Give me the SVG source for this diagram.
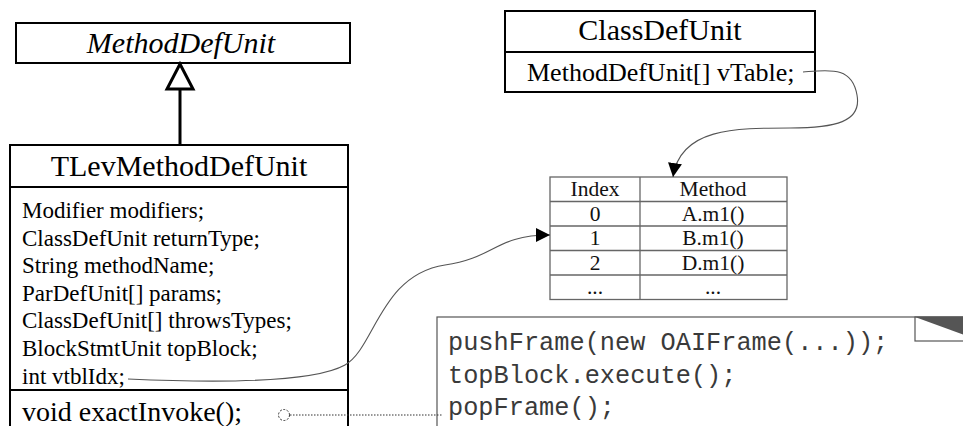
<svg xmlns="http://www.w3.org/2000/svg" width="963" height="426" viewBox="0 0 963 426">
  <style>
    .uml { fill: #fff; stroke: #000; stroke-width: 2; }
    .sep { stroke: #000; stroke-width: 2; }
    .serif { font-family: "Liberation Serif", "Times New Roman", serif; fill: #000; }
    .title { font-size: 30px; text-anchor: middle; }
    .attr { font-size: 23px; }
    .tbl { fill: none; stroke: #666; stroke-width: 1.3; }
    .cell { font-family: "Liberation Serif", "Times New Roman", serif; font-size: 21.5px; text-anchor: middle; fill: #111; }
    .code { font-family: "Liberation Mono", "Courier New", monospace; font-size: 25.3px; fill: #3a3a3a; }
    .link { fill: none; stroke: #555; stroke-width: 1.1; }
    .dots { fill: none; stroke: #333; stroke-width: 1.2; stroke-dasharray: 1.5 1.5; }
  </style>
  <defs>
    <marker id="arrow" markerUnits="userSpaceOnUse" markerWidth="15" markerHeight="14" refX="14" refY="7" orient="auto">
      <path d="M0,0 L14,7 L0,14 z" fill="#000"/>
    </marker>
  </defs>

  <rect width="963" height="426" fill="#fff"/>

  <!-- abstract base class -->
  <g id="methodDefUnit">
    <rect class="uml" x="16" y="23" width="334" height="40"/>
    <text class="serif title" x="181" y="53" font-style="italic">MethodDefUnit</text>
  </g>

  <!-- subclass with attributes and operation -->
  <g id="tLevMethodDefUnit">
    <rect class="uml" x="10" y="145" width="338" height="300"/>
    <line class="sep" x1="10" y1="187" x2="348" y2="187"/>
    <line class="sep" x1="10" y1="390" x2="348" y2="390" stroke-width="2.5"/>
    <text class="serif title" x="179" y="176">TLevMethodDefUnit</text>
    <text class="serif attr" x="22" y="218">Modifier modifiers;</text>
    <text class="serif attr" x="22" y="245.6">ClassDefUnit returnType;</text>
    <text class="serif attr" x="22" y="273.2">String methodName;</text>
    <text class="serif attr" x="22" y="300.8">ParDefUnit[] params;</text>
    <text class="serif attr" x="22" y="328.4">ClassDefUnit[] throwsTypes;</text>
    <text class="serif attr" x="22" y="356">BlockStmtUnit topBlock;</text>
    <text class="serif attr" x="22" y="383.6">int vtblIdx;</text>
    <text class="serif" x="22" y="421" font-size="28">void exactInvoke();</text>
  </g>

  <!-- class holding the virtual table -->
  <g id="classDefUnit">
    <rect class="uml" x="505" y="11" width="310" height="81"/>
    <line class="sep" x1="505" y1="52" x2="815" y2="52"/>
    <text class="serif title" x="660" y="40">ClassDefUnit</text>
    <text class="serif" x="527" y="81" font-size="26">MethodDefUnit[] vTable;</text>
  </g>

  <!-- virtual method table -->
  <g id="vTable">
    <rect class="tbl" x="550" y="177" width="237" height="122.5"/>
    <line class="tbl" x1="640" y1="177" x2="640" y2="299.5"/>
    <line class="tbl" x1="550" y1="201.5" x2="787" y2="201.5"/>
    <line class="tbl" x1="550" y1="226" x2="787" y2="226"/>
    <line class="tbl" x1="550" y1="250.5" x2="787" y2="250.5"/>
    <line class="tbl" x1="550" y1="275" x2="787" y2="275"/>
    <text class="cell" x="595" y="196">Index</text>
    <text class="cell" x="713" y="196">Method</text>
    <text class="cell" x="595" y="220.5">0</text>
    <text class="cell" x="713" y="220.5">A.m1()</text>
    <text class="cell" x="595" y="245">1</text>
    <text class="cell" x="713" y="245">B.m1()</text>
    <text class="cell" x="595" y="269.5">2</text>
    <text class="cell" x="713" y="269.5">D.m1()</text>
    <text class="cell" x="595" y="294">...</text>
    <text class="cell" x="713" y="294">...</text>
  </g>

  <!-- code note for exactInvoke -->
  <g id="codeNote">
    <rect x="437" y="317" width="560" height="130" fill="#fff" stroke="#555" stroke-width="1.2"/>
    <rect x="915" y="317" width="60" height="24" fill="#fff" stroke="#555" stroke-width="1.2"/>
    <polygon points="915,317 975,317 975,339" fill="#555"/>
    <text class="code" x="448" y="350">pushFrame(new OAIFrame(...));</text>
    <text class="code" x="448" y="382.5">topBlock.execute();</text>
    <text class="code" x="448" y="415">popFrame();</text>
  </g>

  <!-- connectors -->
  <g id="connectors">
    <!-- generalization -->
    <line x1="180" y1="89" x2="180" y2="145" stroke="#000" stroke-width="3"/>
    <polygon points="180,64 167,89 193,89" fill="#fff" stroke="#000" stroke-width="3" stroke-linejoin="miter"/>
    <!-- vTable reference -->
    <path class="link" d="M803,72 C830,70 852,66 857,95 C862,122 835,128 790,128 C735,128 680,128 673,177" marker-end="url(#arrow)"/>
    <!-- vtblIdx index into table -->
    <path class="link" d="M128,379 C240,384 318,380 345,365 C375,348 380,275 445,265 C495,258 495,235 550,235" marker-end="url(#arrow)"/>
    <!-- note anchor -->
    <circle cx="284" cy="415" r="5.5" fill="#fff" stroke="#333" stroke-width="1" stroke-dasharray="2 1.5"/>
    <line class="dots" x1="290" y1="415" x2="442" y2="415"/>
  </g>
</svg>
